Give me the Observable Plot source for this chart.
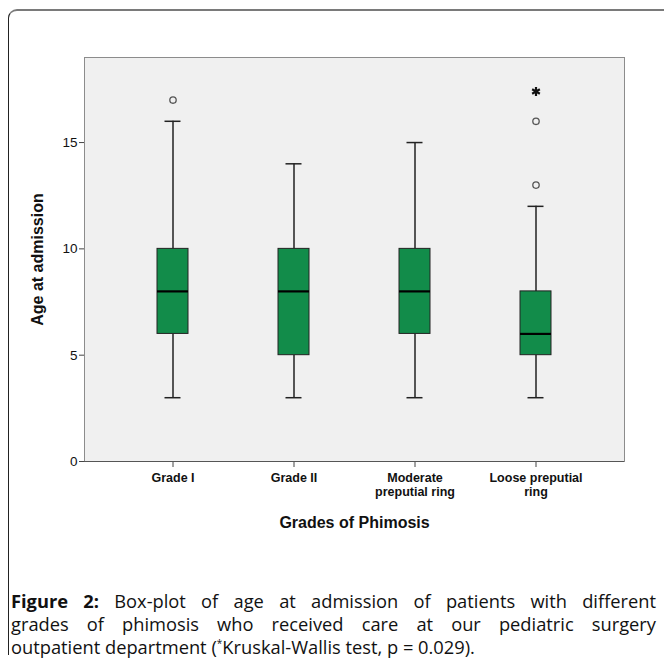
<!DOCTYPE html>
<html>
<head>
<meta charset="utf-8">
<script src="https://cdn.jsdelivr.net/npm/d3@7"></script>
<script src="https://cdn.jsdelivr.net/npm/@observablehq/plot@0.6"></script>
<style>
  html, body { margin: 0; padding: 0; background: #fff; }
  #wrap { position: relative; width: 664px; height: 659px; overflow: hidden; }
  #border { position: absolute; left: 8px; top: 9px; width: 700px; height: 646px;
    border-top: 2px solid #7a7a7a; border-left: 1px solid #222; border-top-left-radius: 9px; box-sizing: border-box; }
  #chart { position: absolute; left: 0; top: 0; }
  #chart svg, #chart svg text { font-family: "Liberation Sans", Arial, sans-serif !important; }
  #caption { position: absolute; left: 11px; top: 589px; width: 645px;
    font-family: "Open Sans", sans-serif; font-size: 18.3px; line-height: 23px; color: #111; }
  #caption .l { display: block; text-align: justify; text-align-last: justify; white-space: nowrap; }
  #caption .last { display: block; text-align: left; white-space: nowrap; }
  sup { font-size: 10px; vertical-align: 7px; line-height: 0; }
</style>
</head>
<body>
<div id="wrap">
  <div id="border"></div>
  <div id="chart"></div>
  <div id="caption">
    <span class="l"><b>Figure 2:</b> Box-plot of age at admission of patients with different</span>
    <span class="l">grades of phimosis who received care at our pediatric surgery</span>
    <span class="last">outpatient department (<sup>*</sup>Kruskal-Wallis test, p = 0.029).</span>
  </div>
</div>
<script>
const categories = ["Grade I", "Grade II", "Moderate\npreputial ring", "Loose preputial\nring"];
const lowWhisker = [3, 3, 3, 3];
const q1 = [6, 5, 6, 5];
const median = [8, 8, 8, 6];
const q3 = [10, 10, 10, 8];
const highWhisker = [16, 14, 15, 12];
const outlierGroup = ["Grade I", "Loose preputial\nring", "Loose preputial\nring"];
const outlierAge = [17, 16, 13];
const extremeGroup = ["Loose preputial\nring"];
const extremeAge = [17.4];
const yTicks = [0, 5, 10, 15];

const boxes = categories.map((c, i) => ({
  cat: c, lo: lowWhisker[i], q1: q1[i], med: median[i], q3: q3[i], hi: highWhisker[i]
}));
const outliers = outlierGroup.map((c, i) => ({cat: c, v: outlierAge[i]}));
const extremes = extremeGroup.map((c, i) => ({cat: c, v: extremeAge[i]}));

const font = "'Liberation Sans', Arial, sans-serif";

const chart = Plot.plot({
  width: 664,
  height: 545,
  marginLeft: 84,
  marginRight: 40,
  marginTop: 57,
  marginBottom: 84,
  style: { fontFamily: font, fontSize: "13px", color: "#111", background: "transparent" },
  x: { type: "band", domain: categories, paddingInner: 0.745, paddingOuter: 0.595 },
  y: { domain: [0, 19] },
  marks: [
    Plot.frame({ fill: "#f0f0f0", stroke: "#8c8c8c" }),
    Plot.ruleX(boxes, { x: "cat", y1: "lo", y2: "q1", stroke: "#222", strokeWidth: 1.5 }),
    Plot.ruleX(boxes, { x: "cat", y1: "q3", y2: "hi", stroke: "#222", strokeWidth: 1.5 }),
    Plot.tickY(boxes, { x: "cat", y: "lo", stroke: "#222", strokeWidth: 1.5, insetLeft: 7.5, insetRight: 7.5 }),
    Plot.tickY(boxes, { x: "cat", y: "hi", stroke: "#222", strokeWidth: 1.5, insetLeft: 7.5, insetRight: 7.5 }),
    Plot.barY(boxes, { x: "cat", y1: "q1", y2: "q3", fill: "#128c4a", stroke: "#222", strokeWidth: 1 }),
    Plot.tickY(boxes, { x: "cat", y: "med", stroke: "#000", strokeWidth: 2.2 }),
    Plot.dot(outliers, { x: "cat", y: "v", r: 3.2, stroke: "#555", strokeWidth: 1.3, fill: "none" }),
    Plot.dot(extremes, { x: "cat", y: "v", r: 4.2, symbol: "asterisk", stroke: "#111", strokeWidth: 2.2 }),
    Plot.axisY({ ticks: yTicks, tickSize: 5, tickPadding: 2, stroke: "#444",
      label: "Age at admission", labelAnchor: "center", labelOffset: 53, labelArrow: "none",
      fontSize: 13.5 }),
    Plot.axisX({ tickSize: 6, tickPadding: 4, stroke: "#444", fontWeight: "bold", fontSize: 12.5,
      lineHeight: 1.15, label: "Grades of Phimosis", labelAnchor: "center", labelOffset: 66, labelArrow: "none" }),
    Plot.ruleX([0], { frameAnchor: "left", stroke: "#444", strokeWidth: 1.2 }),
    Plot.ruleY([0], { stroke: "#555", strokeWidth: 1.2 })
  ]
});
chart.querySelectorAll("[aria-label='y-axis label'] text, [aria-label='x-axis label'] text").forEach(t => {
  t.setAttribute("font-weight", "bold");
  t.setAttribute("font-size", "16");
});
document.getElementById("chart").appendChild(chart);
</script>
</body>
</html>
